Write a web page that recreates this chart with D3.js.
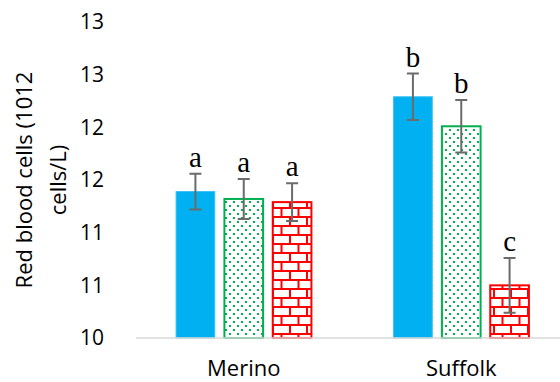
<!DOCTYPE html>
<html>
<head>
<meta charset="utf-8">
<script src="https://cdn.jsdelivr.net/npm/d3@7"></script>
<style>
  body { margin: 0; background: #fff; }
  svg { display: block; }
</style>
</head>
<body>
<div id="chart"></div>
<script>
const categories = ["Merino", "Suffolk"];
const blueValues = [11.39, 12.29];
const blueErrors = [0.17, 0.22];
const dotValues = [11.32, 12.01];
const dotErrors = [0.19, 0.25];
const brickValues = [11.29, 10.50];
const brickErrors = [0.18, 0.26];
const blueLetters = ["a", "b"];
const dotLetters = ["a", "b"];
const brickLetters = ["a", "c"];
const yTicks = [10, 10.5, 11, 11.5, 12, 12.5, 13];

const series = [
  { values: blueValues, errors: blueErrors, letters: blueLetters, fill: "#00b0f0", stroke: "#33c0f3", sw: 1 },
  { values: dotValues, errors: dotErrors, letters: dotLetters, fill: "url(#dots)", stroke: "#00b050", sw: 2 },
  { values: brickValues, errors: brickErrors, letters: brickLetters, fill: "url(#bricks)", stroke: "#ff0000", sw: 2 }
];

const width = 560, height = 382;
const plotLeft = 135, plotRight = 570, plotTop = 22, plotBottom = 338;

const svg = d3.select("#chart").append("svg")
  .attr("width", width)
  .attr("height", height);

const defs = svg.append("defs");

// dotted fill
const dots = defs.append("pattern")
  .attr("id", "dots")
  .attr("patternUnits", "userSpaceOnUse")
  .attr("width", 8).attr("height", 8);
dots.append("rect").attr("width", 8).attr("height", 8).attr("fill", "#fff");
dots.append("rect").attr("x", 1).attr("y", 1).attr("width", 2).attr("height", 2).attr("fill", "#00b050");
dots.append("rect").attr("x", 5).attr("y", 5).attr("width", 2).attr("height", 2).attr("fill", "#00b050");

// brick fill
const bricks = defs.append("pattern")
  .attr("id", "bricks")
  .attr("patternUnits", "userSpaceOnUse")
  .attr("width", 17).attr("height", 18);
bricks.append("rect").attr("width", 17).attr("height", 18).attr("fill", "#fff");
bricks.append("path")
  .attr("d", "M0,1H17M0,10H17M1,1V10M9.5,10V18")
  .attr("stroke", "#ff0000")
  .attr("stroke-width", 2)
  .attr("fill", "none");

const x = d3.scaleBand()
  .domain(categories)
  .range([plotLeft, plotRight]);

const groupWidth = 145;
const xSub = d3.scaleBand()
  .domain([0, 1, 2])
  .range([0, groupWidth])
  .paddingInner(0.2)
  .paddingOuter(0.1);

const y = d3.scaleLinear()
  .domain([10, 13])
  .range([plotBottom, plotTop]);

// y axis labels
const yAxis = svg.append("g")
  .attr("transform", `translate(${plotLeft},0)`)
  .call(d3.axisLeft(y).tickValues(yTicks).tickSize(0).tickPadding(31)
    .tickFormat(d => d.toFixed(0)));
yAxis.select(".domain").remove();
yAxis.selectAll("text")
  .attr("fill", "#000")
  .style("font-family", "'Open Sans', sans-serif")
  .style("font-size", "21px");

// y axis title
const title = svg.append("text")
  .attr("transform", "translate(42,180) rotate(-90)")
  .attr("text-anchor", "middle")
  .style("font-family", "'Open Sans', sans-serif")
  .style("font-size", "22px")
  .attr("fill", "#000");
title.append("tspan").attr("x", 0).attr("dy", "-0.45em").text("Red blood cells (1012");
title.append("tspan").attr("x", 0).attr("dy", "1.55em").text("cells/L)");

// bars
series.forEach((s, i) => {
  const g = svg.append("g");
  const offset = d => x(d) + (x.bandwidth() - groupWidth) / 2 + xSub(i);

  g.selectAll("rect")
    .data(categories)
    .join("rect")
    .attr("x", d => offset(d))
    .attr("y", (d, j) => y(s.values[j]))
    .attr("width", xSub.bandwidth())
    .attr("height", (d, j) => y(10) - y(s.values[j]))
    .attr("fill", s.fill)
    .attr("stroke", s.stroke)
    .attr("stroke-width", s.sw);

  // error bars
  const cx = d => offset(d) + xSub.bandwidth() / 2;
  g.selectAll(".err")
    .data(categories)
    .join("path")
    .attr("class", "err")
    .attr("d", (d, j) => {
      const c = cx(d);
      const hi = y(s.values[j] + s.errors[j]);
      const lo = y(s.values[j] - s.errors[j]);
      return `M${c},${hi}V${lo}M${c - 6},${hi}H${c + 6}M${c - 6},${lo}H${c + 6}`;
    })
    .attr("stroke", "#6b6b6b")
    .attr("stroke-width", 2)
    .attr("fill", "none");

  g.selectAll(".letter")
    .data(categories)
    .join("text")
    .attr("class", "letter")
    .attr("x", d => cx(d))
    .attr("y", (d, j) => y(s.values[j] + s.errors[j]) - 7)
    .attr("text-anchor", "middle")
    .style("font-family", "'Liberation Serif', serif")
    .style("font-size", "29px")
    .attr("fill", "#000")
    .text((d, j) => s.letters[j]);
});

// baseline
svg.append("line")
  .attr("x1", plotLeft + 1).attr("x2", width)
  .attr("y1", y(10)).attr("y2", y(10))
  .attr("stroke", "#d9d9d9")
  .attr("stroke-width", 1.5);

// category labels
svg.append("g")
  .selectAll("text")
  .data(categories)
  .join("text")
  .attr("x", d => x(d) + x.bandwidth() / 2)
  .attr("y", 376)
  .attr("text-anchor", "middle")
  .style("font-family", "'Open Sans', sans-serif")
  .style("font-size", "22px")
  .attr("fill", "#000")
  .text(d => d);
</script>
</body>
</html>
